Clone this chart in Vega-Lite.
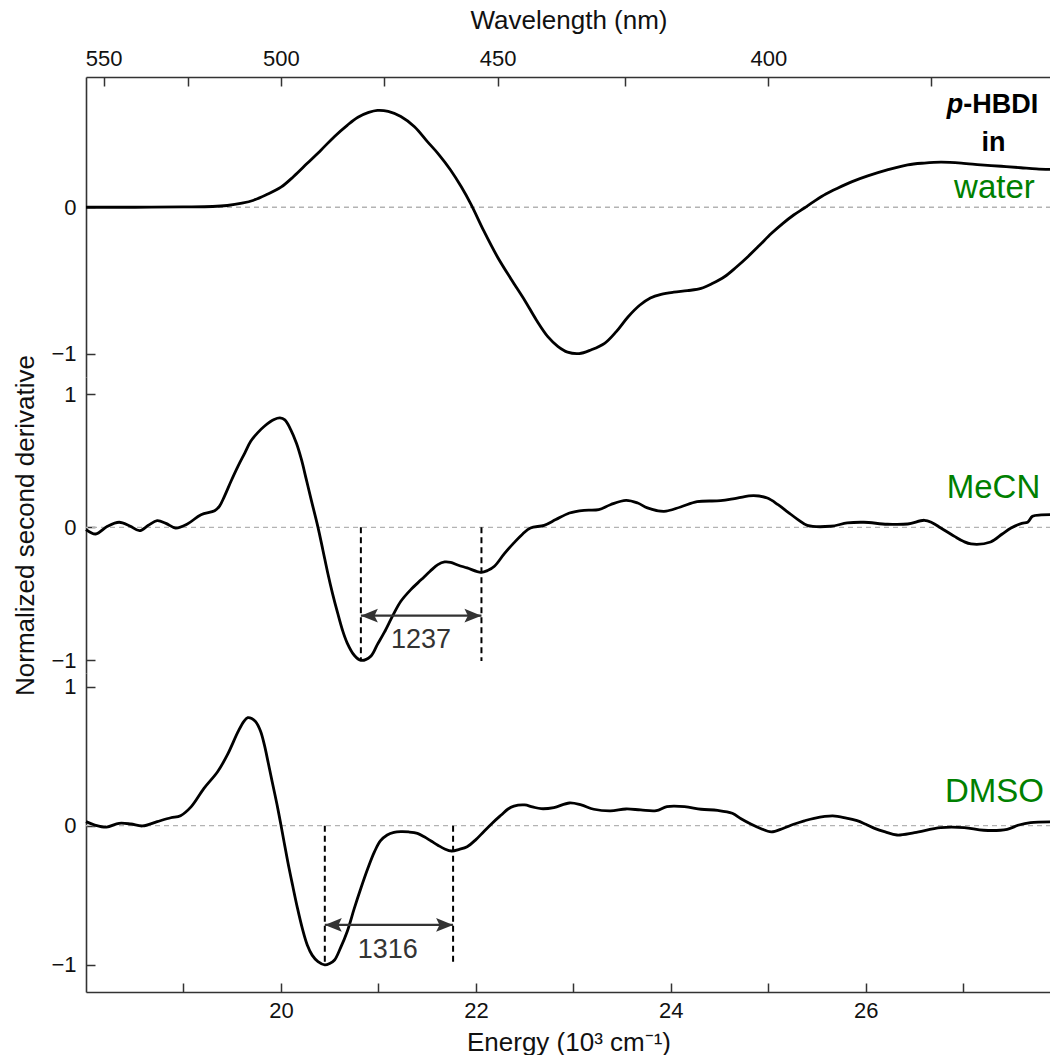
{
  "$schema": "https://vega.github.io/schema/vega-lite/v6.json",
  "padding": {"left": 12, "top": 7, "right": 0, "bottom": 0},
  "spacing": 0,
  "bounds": "flush",
  "config": {
    "view": {"stroke": null},
    "font": "Liberation Sans",
    "axis": {
      "domainColor": "#333", "domainWidth": 1.6,
      "tickColor": "#333", "tickWidth": 1.5, "tickSize": -9,
      "labelFontSize": 22, "labelColor": "#111", "labelFont": "Liberation Sans", "format": "d",
      "titleFontSize": 26, "titleFontWeight": "normal", "titleColor": "#111", "titleFont": "Liberation Sans",
      "grid": false
    }
  },
  "datasets": {
    "water": [
      {"E":18.0,"v":0},{"E":18.5,"v":0},{"E":19.0,"v":0.002},{"E":19.3,"v":0.005},{"E":19.45,"v":0.012},
      {"E":19.6,"v":0.028},{"E":19.72,"v":0.048},{"E":19.85,"v":0.085},{"E":20.0,"v":0.137},{"E":20.13,"v":0.21},
      {"E":20.27,"v":0.30},{"E":20.41,"v":0.39},{"E":20.55,"v":0.484},{"E":20.68,"v":0.56},{"E":20.79,"v":0.615},
      {"E":20.9,"v":0.648},{"E":20.99,"v":0.662},{"E":21.1,"v":0.655},{"E":21.23,"v":0.62},{"E":21.37,"v":0.55},
      {"E":21.5,"v":0.45},{"E":21.62,"v":0.36},{"E":21.74,"v":0.255},{"E":21.85,"v":0.14},{"E":21.95,"v":0.02},
      {"E":22.08,"v":-0.16},{"E":22.22,"v":-0.338},{"E":22.36,"v":-0.49},{"E":22.5,"v":-0.635},{"E":22.62,"v":-0.77},
      {"E":22.74,"v":-0.886},{"E":22.84,"v":-0.95},{"E":22.94,"v":-0.99},{"E":23.06,"v":-1.0},{"E":23.18,"v":-0.975},
      {"E":23.32,"v":-0.93},{"E":23.44,"v":-0.85},{"E":23.56,"v":-0.75},{"E":23.68,"v":-0.67},{"E":23.79,"v":-0.62},
      {"E":23.9,"v":-0.595},{"E":24.03,"v":-0.58},{"E":24.17,"v":-0.57},{"E":24.31,"v":-0.555},{"E":24.43,"v":-0.52},
      {"E":24.55,"v":-0.475},{"E":24.67,"v":-0.41},{"E":24.79,"v":-0.338},{"E":24.91,"v":-0.26},{"E":25.03,"v":-0.18},
      {"E":25.15,"v":-0.11},{"E":25.26,"v":-0.053},{"E":25.37,"v":-0.005},{"E":25.47,"v":0.04},{"E":25.59,"v":0.09},
      {"E":25.71,"v":0.13},{"E":25.86,"v":0.175},{"E":26.02,"v":0.214},{"E":26.22,"v":0.255},{"E":26.43,"v":0.29},
      {"E":26.6,"v":0.302},{"E":26.77,"v":0.308},{"E":26.98,"v":0.302},{"E":27.18,"v":0.29},{"E":27.39,"v":0.28},
      {"E":27.59,"v":0.27},{"E":27.75,"v":0.262},{"E":27.9,"v":0.258}
    ],
    "mecn": [
      {"E":18.0,"v":-0.017},{"E":18.1,"v":-0.05},{"E":18.22,"v":0.008},{"E":18.34,"v":0.038},{"E":18.45,"v":0.01},
      {"E":18.55,"v":-0.025},{"E":18.64,"v":0.015},{"E":18.73,"v":0.05},{"E":18.82,"v":0.03},{"E":18.92,"v":-0.005},
      {"E":19.04,"v":0.025},{"E":19.18,"v":0.095},{"E":19.32,"v":0.125},{"E":19.37,"v":0.16},{"E":19.42,"v":0.233},
      {"E":19.49,"v":0.35},{"E":19.56,"v":0.46},{"E":19.63,"v":0.56},{"E":19.69,"v":0.647},{"E":19.76,"v":0.71},
      {"E":19.83,"v":0.76},{"E":19.93,"v":0.81},{"E":19.99,"v":0.822},{"E":20.04,"v":0.808},{"E":20.1,"v":0.735},
      {"E":20.16,"v":0.63},{"E":20.21,"v":0.51},{"E":20.26,"v":0.36},{"E":20.31,"v":0.208},{"E":20.38,"v":0},
      {"E":20.43,"v":-0.17},{"E":20.48,"v":-0.343},{"E":20.53,"v":-0.5},{"E":20.58,"v":-0.64},{"E":20.63,"v":-0.77},
      {"E":20.68,"v":-0.87},{"E":20.75,"v":-0.96},{"E":20.82,"v":-1.0},{"E":20.92,"v":-0.97},{"E":20.99,"v":-0.88},
      {"E":21.06,"v":-0.79},{"E":21.15,"v":-0.66},{"E":21.23,"v":-0.556},{"E":21.33,"v":-0.47},{"E":21.44,"v":-0.393},
      {"E":21.53,"v":-0.33},{"E":21.61,"v":-0.28},{"E":21.68,"v":-0.26},{"E":21.74,"v":-0.263},{"E":21.82,"v":-0.285},
      {"E":21.91,"v":-0.305},{"E":22.05,"v":-0.338},{"E":22.12,"v":-0.325},{"E":22.19,"v":-0.293},{"E":22.29,"v":-0.2},
      {"E":22.39,"v":-0.117},{"E":22.48,"v":-0.05},{"E":22.56,"v":-0.005},{"E":22.7,"v":0.015},{"E":22.82,"v":0.058},
      {"E":22.96,"v":0.108},{"E":23.11,"v":0.128},{"E":23.26,"v":0.133},{"E":23.38,"v":0.17},{"E":23.54,"v":0.203},
      {"E":23.66,"v":0.183},{"E":23.76,"v":0.146},{"E":23.93,"v":0.12},{"E":24.1,"v":0.153},{"E":24.27,"v":0.193},
      {"E":24.51,"v":0.2},{"E":24.68,"v":0.22},{"E":24.85,"v":0.238},{"E":24.99,"v":0.22},{"E":25.1,"v":0.17},
      {"E":25.2,"v":0.115},{"E":25.3,"v":0.06},{"E":25.4,"v":0.015},{"E":25.64,"v":0.008},{"E":25.81,"v":0.033},
      {"E":25.98,"v":0.038},{"E":26.22,"v":0.023},{"E":26.43,"v":0.025},{"E":26.6,"v":0.053},{"E":26.68,"v":0.035},
      {"E":26.77,"v":-0.005},{"E":26.91,"v":-0.068},{"E":27.0,"v":-0.105},{"E":27.08,"v":-0.125},{"E":27.28,"v":-0.11},
      {"E":27.4,"v":-0.05},{"E":27.49,"v":-0.005},{"E":27.6,"v":0.03},{"E":27.66,"v":0.038},{"E":27.71,"v":0.083},
      {"E":27.8,"v":0.093},{"E":27.89,"v":0.095}
    ],
    "dmso": [
      {"E":18.0,"v":0.029},{"E":18.09,"v":0.005},{"E":18.21,"v":-0.01},{"E":18.34,"v":0.017},{"E":18.46,"v":0.012},
      {"E":18.58,"v":-0.002},{"E":18.73,"v":0.029},{"E":18.87,"v":0.057},{"E":18.97,"v":0.072},{"E":19.08,"v":0.137},
      {"E":19.21,"v":0.268},{"E":19.35,"v":0.388},{"E":19.45,"v":0.508},{"E":19.56,"v":0.675},{"E":19.62,"v":0.75},
      {"E":19.66,"v":0.776},{"E":19.7,"v":0.77},{"E":19.74,"v":0.747},{"E":19.79,"v":0.68},{"E":19.83,"v":0.58},
      {"E":19.87,"v":0.45},{"E":19.91,"v":0.316},{"E":19.96,"v":0.15},{"E":20.0,"v":0.005},{"E":20.07,"v":-0.259},
      {"E":20.12,"v":-0.43},{"E":20.17,"v":-0.594},{"E":20.22,"v":-0.74},{"E":20.27,"v":-0.857},{"E":20.32,"v":-0.93},
      {"E":20.38,"v":-0.977},{"E":20.45,"v":-1.0},{"E":20.5,"v":-0.99},{"E":20.55,"v":-0.965},{"E":20.61,"v":-0.88},
      {"E":20.68,"v":-0.76},{"E":20.75,"v":-0.6},{"E":20.82,"v":-0.45},{"E":20.89,"v":-0.31},{"E":20.96,"v":-0.187},
      {"E":21.02,"v":-0.11},{"E":21.09,"v":-0.067},{"E":21.16,"v":-0.048},{"E":21.23,"v":-0.043},{"E":21.31,"v":-0.045},
      {"E":21.4,"v":-0.055},{"E":21.47,"v":-0.08},{"E":21.54,"v":-0.11},{"E":21.61,"v":-0.14},{"E":21.68,"v":-0.167},
      {"E":21.75,"v":-0.182},{"E":21.83,"v":-0.17},{"E":21.91,"v":-0.151},{"E":22.0,"v":-0.1},{"E":22.08,"v":-0.043},
      {"E":22.17,"v":0.02},{"E":22.26,"v":0.077},{"E":22.33,"v":0.12},{"E":22.39,"v":0.141},{"E":22.5,"v":0.149},
      {"E":22.58,"v":0.135},{"E":22.67,"v":0.122},{"E":22.8,"v":0.13},{"E":22.96,"v":0.163},{"E":23.08,"v":0.149},
      {"E":23.21,"v":0.118},{"E":23.38,"v":0.106},{"E":23.54,"v":0.12},{"E":23.69,"v":0.113},{"E":23.85,"v":0.108},
      {"E":23.96,"v":0.137},{"E":24.14,"v":0.137},{"E":24.31,"v":0.118},{"E":24.48,"v":0.11},{"E":24.63,"v":0.089},
      {"E":24.72,"v":0.05},{"E":24.82,"v":0.012},{"E":24.92,"v":-0.02},{"E":25.03,"v":-0.045},{"E":25.15,"v":-0.02},
      {"E":25.26,"v":0.01},{"E":25.37,"v":0.035},{"E":25.47,"v":0.053},{"E":25.66,"v":0.07},{"E":25.8,"v":0.055},
      {"E":25.91,"v":0.036},{"E":26.0,"v":0.01},{"E":26.09,"v":-0.019},{"E":26.2,"v":-0.045},{"E":26.32,"v":-0.067},
      {"E":26.5,"v":-0.05},{"E":26.77,"v":-0.014},{"E":27.01,"v":-0.014},{"E":27.21,"v":-0.033},{"E":27.45,"v":-0.026},
      {"E":27.57,"v":0.005},{"E":27.69,"v":0.022},{"E":27.89,"v":0.027}
    ]
  },
  "vconcat": [
    {
      "width": 965, "height": 300,
      "encoding": {
        "x": {"type": "quantitative", "scale": {"domain": [18, 27.9], "nice": false, "zero": false}},
        "y": {"type": "quantitative", "scale": {"domain": [-1.16, 0.89], "nice": false, "zero": false}}
      },
      "layer": [
        {
          "data": {"values": [{"zero": 0}]},
          "mark": {"type": "rule", "stroke": "#b3b3b3", "strokeWidth": 1.3, "strokeDash": [5, 4]},
          "encoding": {"y": {"field": "zero", "type": "quantitative", "axis": {"values": [-1, 0], "title": null, "labelPadding": 19}}}
        },
        {
          "data": {"name": "water"},
          "mark": {"type": "line", "stroke": "#000", "strokeWidth": 2.8, "interpolate": "catmull-rom"},
          "encoding": {
            "x": {"field": "E", "type": "quantitative", "axis": {"orient": "top", "title": "Wavelength (nm)", "values": [18.1818, 19.0476, 20, 21.0526, 22.2222, 23.5294, 25, 26.6667], "labelExpr": "round(10000/datum.value) % 50 == 0 ? format(round(10000/datum.value), 'd') : ''", "labelPadding": 16, "titlePadding": 14}},
            "y": {"field": "v", "type": "quantitative"}
          }
        },
        {
          "data": {"values": [{"E": 27.0, "v": 0.646, "t": "p"}]},
          "mark": {"type": "text", "fontSize": 27, "fontWeight": "bold", "fontStyle": "italic", "align": "right", "baseline": "alphabetic", "color": "#000"},
          "encoding": {"x": {"field": "E", "type": "quantitative"}, "y": {"field": "v", "type": "quantitative"}, "text": {"field": "t"}}
        },
        {
          "data": {"values": [{"E": 27.0, "v": 0.646, "t": "-HBDI"}]},
          "mark": {"type": "text", "fontSize": 27, "fontWeight": "bold", "align": "left", "baseline": "alphabetic", "color": "#000"},
          "encoding": {"x": {"field": "E", "type": "quantitative"}, "y": {"field": "v", "type": "quantitative"}, "text": {"field": "t"}}
        },
        {
          "data": {"values": [{"E": 27.31, "v": 0.386, "t": "in"}]},
          "mark": {"type": "text", "fontSize": 27, "fontWeight": "bold", "align": "center", "baseline": "alphabetic", "color": "#000"},
          "encoding": {"x": {"field": "E", "type": "quantitative"}, "y": {"field": "v", "type": "quantitative"}, "text": {"field": "t"}}
        },
        {
          "data": {"values": [{"E": 27.32, "v": 0.064, "t": "water"}]},
          "mark": {"type": "text", "fontSize": 33, "align": "center", "baseline": "alphabetic", "color": "#008000"},
          "encoding": {"x": {"field": "E", "type": "quantitative"}, "y": {"field": "v", "type": "quantitative"}, "text": {"field": "t"}}
        }
      ]
    },
    {
      "width": 965, "height": 296,
      "encoding": {
        "x": {"type": "quantitative", "scale": {"domain": [18, 27.9], "nice": false, "zero": false}, "axis": null},
        "y": {"type": "quantitative", "scale": {"domain": [-1.095, 1.13], "nice": false, "zero": false}}
      },
      "layer": [
        {
          "data": {"values": [{"zero": 0}]},
          "mark": {"type": "rule", "stroke": "#b3b3b3", "strokeWidth": 1.3, "strokeDash": [5, 4]},
          "encoding": {"y": {"field": "zero", "type": "quantitative", "axis": {"values": [-1, 0, 1], "title": "Normalized second derivative", "labelPadding": 19, "titlePadding": 12}}}
        },
        {
          "data": {"name": "mecn"},
          "mark": {"type": "line", "stroke": "#000", "strokeWidth": 2.8, "interpolate": "catmull-rom"},
          "encoding": {"x": {"field": "E", "type": "quantitative"}, "y": {"field": "v", "type": "quantitative"}}
        },
        {
          "data": {"values": [{"E": 20.82, "a": 0, "b": -1.0}, {"E": 22.057, "a": 0, "b": -1.005}]},
          "mark": {"type": "rule", "stroke": "#000", "strokeWidth": 2, "strokeDash": [6, 4]},
          "encoding": {"x": {"field": "E", "type": "quantitative"}, "y": {"field": "a", "type": "quantitative"}, "y2": {"field": "b"}}
        },
        {
          "data": {"values": [{"E": 20.82, "E2": 22.057, "v": -0.664}]},
          "mark": {"type": "rule", "stroke": "#333", "strokeWidth": 2.2},
          "encoding": {"x": {"field": "E", "type": "quantitative"}, "x2": {"field": "E2"}, "y": {"field": "v", "type": "quantitative"}}
        },
        {
          "data": {"values": [{"E": 20.82, "v": -0.664}]},
          "mark": {"type": "point", "shape": "M0,0L1,-0.4L0.8,0L1,0.4Z", "filled": true, "size": 1156, "color": "#333", "opacity": 1, "strokeWidth": 0},
          "encoding": {"x": {"field": "E", "type": "quantitative"}, "y": {"field": "v", "type": "quantitative"}}
        },
        {
          "data": {"values": [{"E": 22.057, "v": -0.664}]},
          "mark": {"type": "point", "shape": "M0,0L-1,-0.4L-0.8,0L-1,0.4Z", "filled": true, "size": 1156, "color": "#333", "opacity": 1, "strokeWidth": 0},
          "encoding": {"x": {"field": "E", "type": "quantitative"}, "y": {"field": "v", "type": "quantitative"}}
        },
        {
          "data": {"values": [{"E": 21.437, "v": -0.905, "t": "1237"}]},
          "mark": {"type": "text", "fontSize": 27, "align": "center", "baseline": "alphabetic", "color": "#333"},
          "encoding": {"x": {"field": "E", "type": "quantitative"}, "y": {"field": "v", "type": "quantitative"}, "text": {"field": "t"}}
        },
        {
          "data": {"values": [{"E": 27.31, "v": 0.223, "t": "MeCN"}]},
          "mark": {"type": "text", "fontSize": 33, "align": "center", "baseline": "alphabetic", "color": "#008000"},
          "encoding": {"x": {"field": "E", "type": "quantitative"}, "y": {"field": "v", "type": "quantitative"}, "text": {"field": "t"}}
        }
      ]
    },
    {
      "width": 965, "height": 319,
      "encoding": {
        "x": {"type": "quantitative", "scale": {"domain": [18, 27.9], "nice": false, "zero": false}},
        "y": {"type": "quantitative", "scale": {"domain": [-1.195, 1.097], "nice": false, "zero": false}}
      },
      "layer": [
        {
          "data": {"values": [{"zero": 0}]},
          "mark": {"type": "rule", "stroke": "#b3b3b3", "strokeWidth": 1.3, "strokeDash": [5, 4]},
          "encoding": {"y": {"field": "zero", "type": "quantitative", "axis": {"values": [-1, 0, 1], "title": null, "labelPadding": 19}}}
        },
        {
          "data": {"name": "dmso"},
          "mark": {"type": "line", "stroke": "#000", "strokeWidth": 2.8, "interpolate": "catmull-rom"},
          "encoding": {
            "x": {"field": "E", "type": "quantitative", "axis": {"orient": "bottom", "title": "Energy (10³ cm⁻¹)", "values": [19, 20, 21, 22, 23, 24, 25, 26, 27], "labelExpr": "datum.value % 2 == 0 ? datum.label : ''", "labelPadding": 17, "titlePadding": 8}},
            "y": {"field": "v", "type": "quantitative"}
          }
        },
        {
          "data": {"values": [{"E": 20.45, "a": 0, "b": -1.0}, {"E": 21.766, "a": 0, "b": -1.005}]},
          "mark": {"type": "rule", "stroke": "#000", "strokeWidth": 2, "strokeDash": [6, 4]},
          "encoding": {"x": {"field": "E", "type": "quantitative"}, "y": {"field": "a", "type": "quantitative"}, "y2": {"field": "b"}}
        },
        {
          "data": {"values": [{"E": 20.45, "E2": 21.766, "v": -0.713}]},
          "mark": {"type": "rule", "stroke": "#333", "strokeWidth": 2.2},
          "encoding": {"x": {"field": "E", "type": "quantitative"}, "x2": {"field": "E2"}, "y": {"field": "v", "type": "quantitative"}}
        },
        {
          "data": {"values": [{"E": 20.45, "v": -0.713}]},
          "mark": {"type": "point", "shape": "M0,0L1,-0.4L0.8,0L1,0.4Z", "filled": true, "size": 1156, "color": "#333", "opacity": 1, "strokeWidth": 0},
          "encoding": {"x": {"field": "E", "type": "quantitative"}, "y": {"field": "v", "type": "quantitative"}}
        },
        {
          "data": {"values": [{"E": 21.766, "v": -0.713}]},
          "mark": {"type": "point", "shape": "M0,0L-1,-0.4L-0.8,0L-1,0.4Z", "filled": true, "size": 1156, "color": "#333", "opacity": 1, "strokeWidth": 0},
          "encoding": {"x": {"field": "E", "type": "quantitative"}, "y": {"field": "v", "type": "quantitative"}}
        },
        {
          "data": {"values": [{"E": 21.095, "v": -0.948, "t": "1316"}]},
          "mark": {"type": "text", "fontSize": 27, "align": "center", "baseline": "alphabetic", "color": "#333"},
          "encoding": {"x": {"field": "E", "type": "quantitative"}, "y": {"field": "v", "type": "quantitative"}, "text": {"field": "t"}}
        },
        {
          "data": {"values": [{"E": 27.32, "v": 0.172, "t": "DMSO"}]},
          "mark": {"type": "text", "fontSize": 33, "align": "center", "baseline": "alphabetic", "color": "#008000"},
          "encoding": {"x": {"field": "E", "type": "quantitative"}, "y": {"field": "v", "type": "quantitative"}, "text": {"field": "t"}}
        }
      ]
    }
  ]
}
